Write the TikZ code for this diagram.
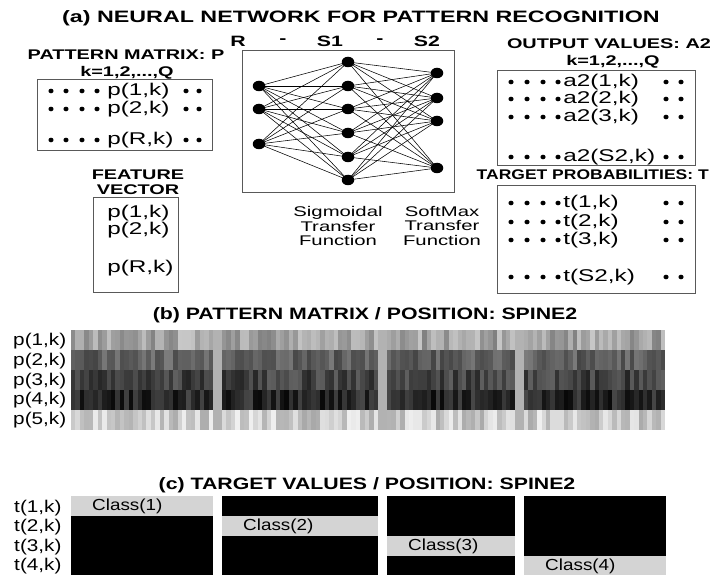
\documentclass[tikz,border=0pt]{standalone}
\usepackage{fontspec}
\setmainfont{Liberation Sans}
\usetikzlibrary{shapes.geometric}

\begin{document}
\begin{tikzpicture}[x=1pt,y=-1pt,
ttl/.style={font=\bfseries\fontsize{16.5}{18}\selectfont,xscale=1.41,inner sep=0},
part/.style={ttl,xscale=1.29/1.41},
sub/.style={font=\bfseries\fontsize{14}{15}\selectfont,xscale=1.42,inner sep=0},
txt/.style={font=\fontsize{14}{14.8}\selectfont,xscale=1.45,inner sep=0},
lbl/.style={font=\fontsize{17}{17}\selectfont,xscale=1.43,inner sep=0,anchor=west},
axis/.style={lbl,xscale=1.22/1.43},
cls/.style={font=\fontsize{16}{16}\selectfont,xscale=1.18,inner sep=0,anchor=west},
frame/.style={draw=black!65,line width=0.8pt},
unit/.style={ellipse,fill,inner sep=0,minimum width=12.5pt,minimum height=10.5pt},
link/.style={line width=0.55pt}]
\useasboundingbox (0,0) rectangle (710,575);

% (a) network and its data
\node[ttl] (ttla) at (361,18) {(a) NEURAL NETWORK FOR PATTERN RECOGNITION};

\node[sub] (pmat) at (126,55) {PATTERN MATRIX: P};
\node[sub] (pidx) at (127,73) {k=1,2,...,Q};
\draw[frame] (37,79) rectangle (212,150);
\foreach \y/\t in {91/1,109/2,140/R}{
  \node[lbl] (pm\t) at (107,\y) {p(\t,k)};
  \foreach \x in {51,66,82,97,186,199}
    \fill (\x,\y) ellipse [x radius=2.6,y radius=2.3];
}

\node[sub] (feat) at (138,175) {FEATURE};
\node[sub] (vect) at (138,190) {VECTOR};
\draw[frame] (93,197) rectangle (178,292);
\foreach \y/\t in {213/1,230/2,268/R}
  \node[lbl] (fv\t) at (107,\y) {p(\t,k)};

% layer sizes
\foreach \x/\t [count=\i] in {238/R,283/-,330/S1,380/-,427/S2}
  \node[sub,font=\bfseries\fontsize{15}{15}\selectfont] (lay\i) at (\x,41) {\t};

\draw[frame] (242,50) rectangle (454,192);
\foreach \i/\y in {1/86,2/109,3/144} \node[unit] (in\i) at (259,\y) {};
\foreach \j/\y in {1/62,2/86,3/109,4/133,5/157,6/180} \node[unit] (hid\j) at (348,\y) {};
\foreach \k/\y in {1/73,2/98,3/121,4/168} \node[unit] (out\k) at (437,\y) {};
\foreach \i in {1,2,3}
  \foreach \j in {1,...,6} \draw[link] (in\i.center) -- (hid\j.center);
\foreach \j in {1,...,6}
  \foreach \k in {1,...,4} \draw[link] (hid\j.center) -- (out\k.center);

\node[txt,align=center] (sigm) at (338,226) {Sigmoidal\\Transfer\\Function};
\node[txt,align=center] (soft) at (442,226) {SoftMax\\Transfer\\Function};

\node[sub] (outv) at (609,44) {OUTPUT VALUES: A2};
\node[sub] (oidx) at (613,62) {k=1,2,...,Q};
\draw[frame] (497,70) rectangle (695,165);
\foreach \y/\t in {82/1,99/2,117/3,157/S2}{
  \node[lbl] (a\t) at (563,\y) {a2(\t,k)};
  \foreach \x in {511,527,543,558,666,681}
    \fill (\x,\y) ellipse [x radius=2.6,y radius=2.3];
}

\node[sub,xscale=1.25/1.42,anchor=east] (targ) at (709,175) {TARGET PROBABILITIES: T};
\draw[frame] (497,185) rectangle (695,293);
\foreach \y/\t in {203/1,222/2,240/3,277/S2}{
  \node[lbl] (tp\t) at (563,\y) {t(\t,k)};
  \foreach \x in {511,527,543,558,666,681}
    \fill (\x,\y) ellipse [x radius=2.6,y radius=2.3];
}

% (b) pattern matrix
\node[part] (ttlb) at (365,315) {(b) PATTERN MATRIX / POSITION: SPINE2};
\foreach \r/\y in {1/341,2/361,3/381,4/400,5/420}
  \node[axis] (prow\r) at (13,\y) {p(\r,k)};
\pgfmathsetseed{11}
\foreach \xa/\n/\w in {71/32/4.44,222/35/4.46,387/29/4.41,524/32/4.41}{
  \foreach \c in {1,...,\n}{
    \foreach \r/\b/\s in {0/36/14,1/62/11,2/74/12,3/84/13,4/20/14}{
      \pgfmathsetmacro\v{max(0,min(100,\b+\s*rand))}
      \fill[black!\v] ({\xa+(\c-1)*\w},{330+20*\r}) rectangle ++(\w+0.1,20);
    }
  }
}
\foreach \xa in {213,378,515}
  \fill[black!30] (\xa,330) rectangle ++(9,100);

% (c) target values
\node[part] (ttlc) at (367,485) {(c) TARGET VALUES / POSITION: SPINE2};
\foreach \r/\y in {1/508,2/527,3/547,4/566}
  \node[axis] (trow\r) at (14,\y) {t(\r,k)};
\foreach \c/\xa/\xb in {1/71/213,2/222/378,3/387/515,4/524/666}{
  \fill (\xa,496) rectangle (\xb,576);
  \pgfmathsetmacro\ya{496+20*(\c-1)}
  \fill[black!17] (\xa,\ya) rectangle (\xb,\ya+20);
  \node[cls] (cls\c) at (\xa+21,\ya+10) {Class(\c)};
}
\end{tikzpicture}
\end{document}
